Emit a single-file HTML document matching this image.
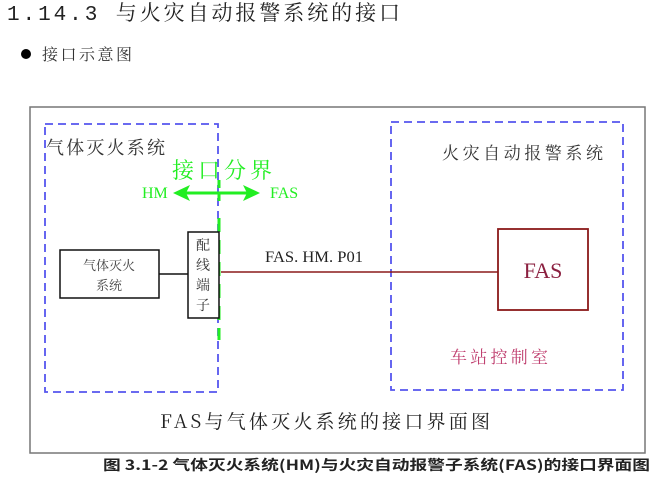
<!DOCTYPE html><html><head><meta charset="utf-8"><style>
body{margin:0;width:657px;height:493px;background:#fff;overflow:hidden;font-family:"Liberation Serif","Noto Serif CJK SC",serif}
</style></head><body>
<svg width="657" height="493" xmlns="http://www.w3.org/2000/svg" style="position:absolute;left:0;top:0">
<text x="7" y="20" font-size="21" fill="#222" font-family="Liberation Mono,Noto Serif CJK SC,serif" textLength="393" lengthAdjust="spacing">1.14.3 与火灾自动报警系统的接口</text>
<circle cx="26" cy="54" r="5" fill="#000"/>
<text x="42" y="60" font-size="16" fill="#333" font-family="Noto Serif CJK SC,serif" textLength="90" lengthAdjust="spacing">接口示意图</text>
<rect x="30" y="107" width="615" height="346" fill="none" stroke="#777" stroke-width="1.5"/>
<rect x="45" y="124" width="173" height="268" fill="none" stroke="#5555ee" stroke-width="1.8" stroke-dasharray="8,5"/>
<rect x="391" y="122" width="232" height="268" fill="none" stroke="#5555ee" stroke-width="1.8" stroke-dasharray="8,5"/>
<text x="46" y="154" font-size="18" fill="#333" font-family="Noto Serif CJK SC,serif" textLength="119" lengthAdjust="spacing">气体灭火系统</text>
<text x="442" y="159" font-size="17" fill="#333" font-family="Noto Serif CJK SC,serif" textLength="161" lengthAdjust="spacing">火灾自动报警系统</text>
<text x="172" y="178" font-size="22" fill="#22ee22" font-family="Noto Serif CJK SC,serif" textLength="100" lengthAdjust="spacing">接口分界</text>
<text x="142" y="198" font-size="16" fill="#22ee22" font-family="Liberation Serif,serif">HM</text>
<text x="270" y="198" font-size="16" fill="#22ee22" font-family="Liberation Serif,serif">FAS</text>
<line x1="180" y1="193" x2="252" y2="193" stroke="#22ee22" stroke-width="3"/>
<polygon points="173,193 190,185 186,193 190,201" fill="#22ee22"/>
<polygon points="260,193 243,185 247,193 243,201" fill="#22ee22"/>
<line x1="219" y1="180" x2="219" y2="205" stroke="#22ee22" stroke-width="3" stroke-dasharray="8,5"/>
<line x1="219" y1="218" x2="219" y2="340" stroke="#22ee22" stroke-width="3" stroke-dasharray="14,8"/>
<rect x="60" y="250" width="99" height="48" fill="#fff" stroke="#111" stroke-width="1.5"/>
<text x="109" y="270" font-size="13" fill="#444" text-anchor="middle" font-family="Noto Serif CJK SC,serif">气体灭火</text>
<text x="109" y="290" font-size="13" fill="#444" text-anchor="middle" font-family="Noto Serif CJK SC,serif">系统</text>
<line x1="159" y1="274" x2="188" y2="274" stroke="#111" stroke-width="1.5"/>
<rect x="188" y="232" width="31" height="86" fill="#fff" stroke="#111" stroke-width="1.5"/>
<g font-size="14" fill="#333" text-anchor="middle" font-family="Noto Serif CJK SC,serif">
<text x="203" y="250">配</text><text x="203" y="270">线</text><text x="203" y="290">端</text><text x="203" y="310">子</text></g>
<line x1="221" y1="272" x2="498" y2="272" stroke="#8b1a1a" stroke-width="1.5"/>
<text x="265" y="262" font-size="16" fill="#222" font-family="Liberation Serif,serif" textLength="98" lengthAdjust="spacingAndGlyphs">FAS. HM. P01</text>
<rect x="498" y="229" width="90" height="81" fill="#fff" stroke="#8b1a1a" stroke-width="1.8"/>
<text x="543" y="278" font-size="22" fill="#8b2040" text-anchor="middle">FAS</text>
<text x="450" y="363" font-size="17" fill="#c04070" font-family="Noto Serif CJK SC,serif" textLength="98" lengthAdjust="spacing">车站控制室</text>
<text x="160" y="428" font-size="19" fill="#222" font-family="Noto Serif CJK SC,serif" textLength="330" lengthAdjust="spacing">FAS与气体灭火系统的接口界面图</text>
<text x="103" y="470" font-size="14" font-weight="bold" fill="#222" font-family="Noto Sans CJK SC,sans-serif" textLength="547" lengthAdjust="spacingAndGlyphs">图 3.1-2 气体灭火系统(HM)与火灾自动报警子系统(FAS)的接口界面图</text>
</svg>
</body></html>
